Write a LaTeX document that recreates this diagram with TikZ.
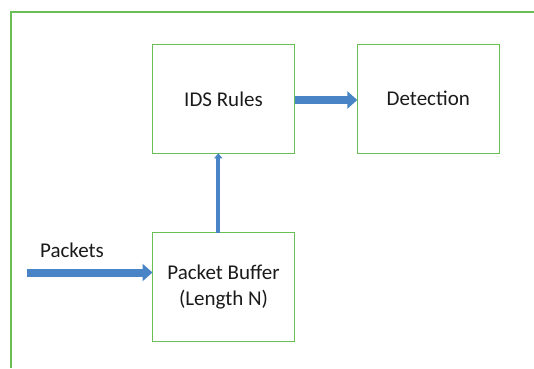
\documentclass[tikz,border=0pt]{standalone}
\usepackage{fontspec}
\setmainfont{Carlito}
\usetikzlibrary{arrows.meta}
\definecolor{framegreen}{RGB}{106,190,86}
\definecolor{flowblue}{RGB}{72,132,198}
\definecolor{labelgray}{RGB}{26,26,26}
\begin{document}
\begin{tikzpicture}[x=1pt,y=-1pt,
  block/.style={draw=framegreen, line width=1.4pt, minimum width=142pt,
    minimum height=109pt, outer sep=0pt, inner sep=0pt, align=center,
    text=labelgray, font=\fontsize{21}{26}\selectfont},
  label/.style={text=labelgray, font=\fontsize{21}{26}\selectfont, inner sep=0pt},
  bigflow/.style={draw=flowblue, line width=8pt,
    -{Triangle[length=10pt,width=17pt]}},
  thinflow/.style={draw=flowblue, line width=4pt,
    -{Triangle[length=5pt,width=8pt]}}]
  \useasboundingbox (0,0) rectangle (534,368);
  % open frame along the top and left
  \draw[framegreen, line width=1.6pt] (11,368) -- (11,12) -- (534,12);
  % processing blocks
  \node[block] (ids) at (223.5,98.8) {IDS Rules};
  \node[block] (det) at (428.3,98.8) {Detection};
  \node[block] (buf) at (223.5,287.2) {Packet Buffer\\(Length N)};
  % incoming packets
  \coordinate (src) at (27,272.5);
  \node[label] (pk) at (72,250) {Packets};
  % flows
  \draw[bigflow] (src) -- (src -| buf.west);
  \draw[thinflow] (buf.north -| 218.3,0) -- (ids.south -| 218.3,0);
  \draw[bigflow] (ids.east |- 0,100) -- (det.west |- 0,100);
\end{tikzpicture}
\end{document}
